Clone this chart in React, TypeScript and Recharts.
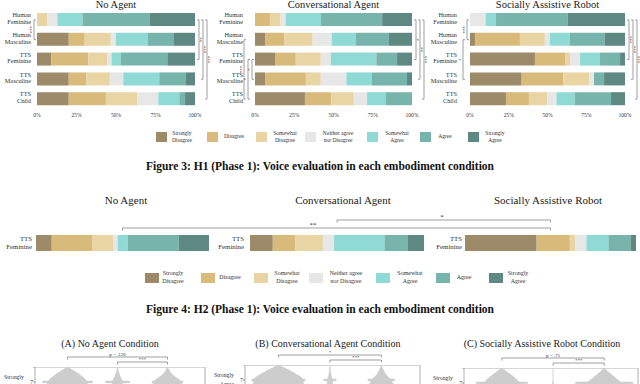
import React from 'react';
import { BarChart, Bar, XAxis, YAxis, AreaChart, Area, ReferenceArea } from 'recharts';

const FONT = "'Liberation Serif', 'DejaVu Serif', serif";

// ---------- data ----------
const LEVELS = ['Strongly Disagree', 'Disagree', 'Somewhat Disagree', 'Neither agree nor Disagree', 'Somewhat Agree', 'Agree', 'Strongly Agree'];
const LEVEL_LINES = [['Strongly', 'Disagree'], ['Disagree'], ['Somewhat', 'Disagree'], ['Neither agree', 'nor Disagree'], ['Somewhat', 'Agree'], ['Agree'], ['Strongly', 'Agree']];
const VOICES = ['Human Feminine', 'Human Masculine', 'TTS Feminine', 'TTS Masculine', 'TTS Child'];
const CONDITIONS = ['No Agent', 'Conversational Agent', 'Socially Assistive Robot'];
const PCT_TICKS = [0, 25, 50, 75, 100];

// percentages per voice (rows) and Likert level (columns)
const NO_AGENT = [
  [0, 0, 6.5, 6.4, 15.9, 42.7, 28.5],
  [20.1, 10.1, 16.5, 3.2, 20.1, 16.7, 13.3],
  [9.1, 23.3, 12.1, 2.7, 5.9, 29.4, 17.5],
  [20.1, 11.2, 14.8, 8.5, 22.8, 16.9, 5.7],
  [20.1, 23.5, 19.9, 13.3, 13.3, 3.6, 6.3],
];
const CONV_AGENT = [
  [0, 9.5, 6.8, 3.2, 22.5, 39, 19],
  [6.4, 12.1, 18.2, 12.1, 15.3, 21.2, 14.7],
  [13.1, 12.9, 15.9, 6.4, 29, 13.2, 9.5],
  [6.4, 26, 9.5, 16.3, 16.3, 22.3, 3.2],
  [31.8, 16.9, 14.2, 8.5, 11.7, 16.9, 0],
];
const SAR = [
  [0, 0, 0, 10.1, 6.7, 46.2, 37],
  [3.2, 29, 16.1, 3.2, 12.9, 22.6, 13],
  [41.9, 19.4, 3.2, 6.5, 12.9, 12.9, 3.2],
  [33.3, 26.9, 16.6, 3.2, 0, 6.5, 13.5],
  [23.2, 14.8, 11.8, 6, 11.8, 23.4, 9],
];
const CONDITION_DATA = [NO_AGENT, CONV_AGENT, SAR];

// significance annotations (voice index a vs b)
const NO_AGENT_SIG = [
  { a: 0, b: 1, label: '***', side: 'left' },
  { a: 0, b: 2, label: '**', side: 'right' },
  { a: 0, b: 3, label: '***', side: 'right' },
  { a: 0, b: 4, label: '***', side: 'right' },
];
const CONV_AGENT_SIG = [
  { a: 2, b: 3, label: '*', side: 'left' },
  { a: 2, b: 4, label: '*', side: 'left' },
  { a: 1, b: 4, label: '***', side: 'left' },
  { a: 0, b: 2, label: '*', side: 'right' },
  { a: 0, b: 3, label: '**', side: 'right' },
  { a: 0, b: 4, label: '***', side: 'right' },
];
const SAR_SIG = [
  { a: 0, b: 1, label: '***', side: 'left' },
  { a: 1, b: 3, label: '*', side: 'left' },
  { a: 0, b: 2, label: '***', side: 'right' },
  { a: 0, b: 3, label: '***', side: 'right' },
  { a: 0, b: 4, label: '***', side: 'right' },
];
const CONDITION_SIG = [NO_AGENT_SIG, CONV_AGENT_SIG, SAR_SIG];

// Figure 4: TTS Feminine across conditions
const FIG4_VOICE_INDEX = 2;
const FIG4_SIG = [
  { a: 0, b: 2, label: '**' },
  { a: 1, b: 2, label: '*' },
];

// Figure 5 (violins), rating levels and half-widths of each violin
const VIOLIN_TITLES = ['(A) No Agent Condition', '(B) Conversational Agent Condition', '(C) Socially Assistive Robot Condition'];
const VIOLIN_Y = [8, 7.8, 7.6, 7.4, 7.2, 7.07, 7.06, 6.95, 6.94, 6.6, 6.2, 6, 5, 4, 3, 2, 1];
const VIOLIN_HW = [
  [
    [0, 0.1, 0.2, 0.28, 0.35, 0.38, 0.5, 0.5, 0.4, 0.42, 0.44, 0.45, 0.3, 0.2, 0.1, 0.05, 0.02],
    [0, 0.01, 0.03, 0.05, 0.08, 0.1, 0.24, 0.24, 0.1, 0.12, 0.15, 0.2, 0.25, 0.2, 0.15, 0.1, 0.05],
    [0, 0.03, 0.07, 0.13, 0.22, 0.27, 0.31, 0.31, 0.28, 0.3, 0.3, 0.32, 0.2, 0.15, 0.1, 0.05, 0.02],
  ],
  [
    [0, 0.12, 0.24, 0.34, 0.44, 0.47, 0.52, 0.52, 0.48, 0.5, 0.5, 0.48, 0.3, 0.2, 0.1, 0.05, 0.02],
    [0, 0.005, 0.01, 0.02, 0.03, 0.05, 0.12, 0.12, 0.05, 0.06, 0.1, 0.15, 0.25, 0.25, 0.2, 0.15, 0.1],
    [0, 0.02, 0.05, 0.08, 0.13, 0.18, 0.26, 0.26, 0.2, 0.25, 0.3, 0.3, 0.2, 0.15, 0.1, 0.05, 0.02],
  ],
  [
    [0, 0.08, 0.16, 0.24, 0.3, 0.34, 0.5, 0.5, 0.35, 0.38, 0.4, 0.4, 0.3, 0.2, 0.1, 0.05, 0.02],
    [0, 0, 0, 0, 0, 0.005, 0.01, 0.01, 0.01, 0.02, 0.05, 0.1, 0.25, 0.3, 0.3, 0.25, 0.2],
    [0, 0.06, 0.13, 0.2, 0.27, 0.32, 0.56, 0.56, 0.36, 0.4, 0.42, 0.42, 0.3, 0.2, 0.1, 0.05, 0.02],
  ],
];
const VIOLIN_SIG = [
  [{ a: 0, b: 2, label: 'p = .126' }, { a: 1, b: 2, label: '***' }],
  [{ a: 0, b: 2, label: '*' }, { a: 1, b: 2, label: '***' }],
  [{ a: 0, b: 2, label: 'p = .75' }, { a: 1, b: 2, label: '***' }],
];

// ---------- styling / layout ----------
const COLORS = ['#9c8a69', '#d8ba7b', '#e9d4a4', '#e7e7e7', '#8fdad4', '#77b4ac', '#5e8983'];
const TEXT = '#333';

const F3_TOP = 0;
const F3_H = 122;
const F3_MT = 10;
const F3_XH = 13;
const F3_BAND = (F3_H - F3_MT - F3_XH) / VOICES.length;
const F3_PANELS = [
  { left: 0, width: 210, yw: 37, right: 15, gap: 6 },
  { left: 210, width: 215, yw: 45, right: 13, gap: 12 },
  { left: 425, width: 215, yw: 45, right: 15, gap: 13 },
];

const F4_TOP = 227;
const F4_H = 32;
const F4_PANELS = [
  { left: 0, width: 212, yw: 36, right: 3, gap: 4, title: 126 },
  { left: 212, width: 215, yw: 38, right: 3, gap: 6, title: 343 },
  { left: 427, width: 213, yw: 38, right: 4, gap: 3, title: 548 },
];
const F4_BRACKET_Y = [228, 220];
const F4_BRACKET_LABEL_X = [313, 442];

const V_UNIT = 15;
const V_PANELS = [
  { left: 35, width: 170, top: 367, domain: [0.35, 3.75], title: 110 },
  { left: 245, width: 175, top: 365, domain: [0.35, 3.75], title: 328 },
  { left: 464, width: 174, top: 368, domain: [0.26, 3.66], title: 542 },
];

const F3_LEGEND = { top: 132, sw: 11, sh: 10, fs: 5.6, sx: [156, 207, 256, 305, 367, 420, 468], lx: [182, 234, 285, 338, 397, 445, 495] };
const F4_LEGEND = { top: 273, sw: 13.5, sh: 10, fs: 6, sx: [145, 201, 254, 309, 376, 436, 489], lx: [173, 230, 287, 346, 410, 464, 518] };

function toRows(values: number[][], voices: string[]) {
  return voices.map((v, i) => {
    const r: any = { voice: v };
    LEVELS.forEach((_, j) => { r['k' + j] = values[i][j]; });
    return r;
  });
}

function voiceTick(gap: number, fs: number, d1: number, d2: number) {
  return (props: any) => {
    const { x, y, payload } = props;
    const words = String(payload.value).split(' ');
    const tx = x - gap;
    return (
      <text textAnchor="end" fontFamily={FONT} fontSize={fs} fill={TEXT}>
        <tspan x={tx} y={y + d1 + fs * 0.35}>{words[0]}</tspan>
        <tspan x={tx} y={y + d2 + fs * 0.35}>{words.slice(1).join(' ')}</tspan>
      </text>
    );
  };
}

function LikertPanel({ p, values }: any) {
  const data = toRows(values, VOICES);
  return (
    <div style={{ position: 'absolute', left: p.left, top: F3_TOP }}>
      <BarChart width={p.width} height={F3_H} data={data} layout="vertical" barSize={13}
        margin={{ top: F3_MT, right: p.right, bottom: 0, left: 0 }}>
        <XAxis type="number" domain={[0, 100]} ticks={PCT_TICKS} tickFormatter={(v: number) => v + '%'}
          axisLine={false} tickLine={false} tickSize={0} tickMargin={4} height={F3_XH}
          tick={{ fontSize: 5.5, fill: TEXT, fontFamily: FONT }} interval={0} />
        <YAxis type="category" dataKey="voice" width={p.yw} axisLine={false} tickLine={false}
          tickSize={0} tickMargin={0} interval={0} tick={voiceTick(p.gap, 6.3, -5, 1.6)} />
        {LEVELS.map((l, j) => (
          <Bar key={l} dataKey={'k' + j} stackId="s" fill={COLORS[j]} isAnimationActive={false} />
        ))}
      </BarChart>
    </div>
  );
}

function SingleBarPanel({ p, values }: any) {
  const data = toRows([values[FIG4_VOICE_INDEX]], [VOICES[FIG4_VOICE_INDEX]]);
  return (
    <div style={{ position: 'absolute', left: p.left, top: F4_TOP }}>
      <BarChart width={p.width} height={F4_H} data={data} layout="vertical" barSize={16}
        margin={{ top: 0, right: p.right, bottom: 0, left: 0 }}>
        <XAxis type="number" domain={[0, 100]} hide />
        <YAxis type="category" dataKey="voice" width={p.yw} axisLine={false} tickLine={false}
          tickSize={0} tickMargin={0} interval={0} tick={voiceTick(p.gap, 6.8, -4, 4)} />
        {LEVELS.map((l, j) => (
          <Bar key={l} dataKey={'k' + j} stackId="s" fill={COLORS[j]} isAnimationActive={false} />
        ))}
      </BarChart>
    </div>
  );
}

function violinTick(props: any) {
  const { x, y, payload } = props;
  if (payload.value !== 7) return <g />;
  return (
    <g>
      <text x={x} y={y + 1.5} textAnchor="end" fontFamily={FONT} fontSize={5.5} fill={TEXT}>7</text>
      <text textAnchor="end" fontFamily={FONT} fontSize={5.8} fill={TEXT}>
        <tspan x={x - 9} y={y - 3}>Strongly</tspan>
        <tspan x={x - 9} y={y + 6}>Agree</tspan>
      </text>
    </g>
  );
}

function ViolinPanel({ p, hw }: any) {
  const yw = 40;
  const rows = VIOLIN_Y.map((y, i) => {
    const r: any = { y };
    hw.forEach((h: number[], k: number) => { r['v' + k] = [k + 1 - h[i], k + 1 + h[i]]; });
    return r;
  });
  const h = V_UNIT * 7;
  return (
    <div style={{ position: 'absolute', left: p.left - yw, top: p.top }}>
      <AreaChart layout="vertical" width={yw + p.width + 2} height={h + 1} data={rows}
        margin={{ top: 0, right: 2, bottom: 1, left: 0 }}>
        <XAxis type="number" domain={p.domain} hide allowDataOverflow />
        <YAxis type="number" dataKey="y" domain={[1, 8]} ticks={[7, 8]} width={yw} axisLine={false} reversed
          tickSize={2} tickMargin={0} tickLine={{ stroke: '#666', strokeWidth: 0.6 }} tick={violinTick} interval={0} />
        <ReferenceArea x1={p.domain[0]} x2={p.domain[1]} y1={1} y2={8} fill="none" stroke="#8c8c8c"
          strokeWidth={0.7} ifOverflow="visible" />
        {hw.map((_: any, k: number) => (
          <Area key={k} dataKey={'v' + k} type="linear" fill="#cdcdcd" fillOpacity={1} stroke="#cdcdcd"
            strokeWidth={0.5} isAnimationActive={false} />
        ))}
      </AreaChart>
    </div>
  );
}

function Legend({ L }: any) {
  return (
    <>
      {LEVEL_LINES.map((lines, j) => {
        const cy = L.top + L.sh / 2;
        return (
          <React.Fragment key={j}>
            <div style={{ position: 'absolute', left: L.sx[j], top: L.top, width: L.sw, height: L.sh, background: COLORS[j] }} />
            <div style={{
              position: 'absolute', left: L.lx[j] - 40, width: 80, top: cy - (lines.length * L.fs * 1.3) / 2,
              textAlign: 'center', fontFamily: FONT, fontSize: L.fs, lineHeight: `${L.fs * 1.3}px`, color: TEXT,
            }}>
              {lines.map((t, i) => <div key={i}>{t}</div>)}
            </div>
          </React.Fragment>
        );
      })}
    </>
  );
}

function Bracket({ x1, x2, y, label, fs, lx }: any) {
  return (
    <g>
      <path d={`M${x1},${y + 2.5} L${x1},${y} L${x2},${y} L${x2},${y + 2.5}`} fill="none" stroke="#777" strokeWidth={0.7} />
      <text x={lx ?? (x1 + x2) / 2} y={y - 1.5} textAnchor="middle" fontFamily={FONT} fontSize={fs} fill={TEXT}>{label}</text>
    </g>
  );
}

function Overlay() {
  const items: any[] = [];
  // Figure 3 brackets
  F3_PANELS.forEach((p, pi) => {
    const PL = p.left + p.yw;
    const PR = p.left + p.width - p.right;
    const cy = (i: number) => F3_TOP + F3_MT + F3_BAND * (i + 0.5);
    let kl = 0, kr = 0;
    CONDITION_SIG[pi].forEach((s, si) => {
      const right = s.side === 'right';
      const x = right ? PR + 4 + 4 * kr++ : PL - 3 - 4 * kl++;
      const t = right ? -2 : 2;
      const y1 = cy(s.a), y2 = cy(s.b);
      const lx = right ? x + 2.5 : x - 2.5;
      const ly = (y1 + y2) / 2;
      items.push(
        <g key={`f3-${pi}-${si}`}>
          <path d={`M${x + t},${y1} L${x},${y1} L${x},${y2} L${x + t},${y2}`} fill="none" stroke="#777" strokeWidth={0.7} />
          <text x={lx} y={ly} transform={`rotate(-90 ${lx} ${ly})`} textAnchor="middle" dominantBaseline="central"
            fontFamily={FONT} fontSize={5} fill={TEXT}>{s.label}</text>
        </g>
      );
    });
  });
  // Figure 4 brackets
  const f4c = F4_PANELS.map((p) => p.left + p.yw + (p.width - p.yw - p.right) / 2);
  FIG4_SIG.forEach((s, si) => {
    items.push(<Bracket key={`f4-${si}`} x1={f4c[s.a]} x2={f4c[s.b]} y={F4_BRACKET_Y[si]} lx={F4_BRACKET_LABEL_X[si]} label={s.label} fs={7} />);
  });
  // Violin brackets
  V_PANELS.forEach((p, pi) => {
    const px = (c: number) => p.left + ((c - p.domain[0]) / (p.domain[1] - p.domain[0])) * p.width;
    VIOLIN_SIG[pi].forEach((s, si) => {
      items.push(<Bracket key={`v-${pi}-${si}`} x1={px(s.a + 1)} x2={px(s.b + 1)} y={p.top - 10 + 5 * si} label={s.label} fs={5} />);
    });
  });
  return (
    <svg width={640} height={384} style={{ position: 'absolute', left: 0, top: 0, pointerEvents: 'none' }}>
      {items}
    </svg>
  );
}

export default function App() {
  return (
    <div style={{ position: 'absolute', left: 0, top: 0, width: 640, height: 384, overflow: 'hidden', background: '#fff', fontFamily: FONT }}>
      {/* Figure 3 */}
      {F3_PANELS.map((p, i) => (
        <React.Fragment key={i}>
          <div style={{
            position: 'absolute', left: p.left + p.yw, width: p.width - p.yw - p.right, top: 0,
            textAlign: 'center', fontSize: 10.5, lineHeight: '10px', color: '#222', whiteSpace: 'nowrap',
          }}>{CONDITIONS[i]}</div>
          <LikertPanel p={p} values={CONDITION_DATA[i]} />
        </React.Fragment>
      ))}
      <Legend L={F3_LEGEND} />
      <div style={{ position: 'absolute', left: 0, width: 640, top: 160, textAlign: 'center', fontWeight: 'bold', fontSize: 11.5, color: '#111' }}>
        Figure 3: H1 (Phase 1): Voice evaluation in each embodiment condition
      </div>

      {/* Figure 4 */}
      {F4_PANELS.map((p, i) => (
        <React.Fragment key={i}>
          <div style={{ position: 'absolute', left: p.title - 80, width: 160, top: 194, textAlign: 'center', fontSize: 11, color: '#222' }}>
            {CONDITIONS[i]}
          </div>
          <SingleBarPanel p={p} values={CONDITION_DATA[i]} />
        </React.Fragment>
      ))}
      <Legend L={F4_LEGEND} />
      <div style={{ position: 'absolute', left: 0, width: 640, top: 303, textAlign: 'center', fontWeight: 'bold', fontSize: 11.5, color: '#111' }}>
        Figure 4: H2 (Phase 1): Voice evaluation in each embodiment condition
      </div>

      {/* Figure 5 (violins, cropped) */}
      {V_PANELS.map((p, i) => (
        <React.Fragment key={i}>
          <div style={{ position: 'absolute', left: p.title - 100, width: 200, top: 338, textAlign: 'center', fontSize: 10, color: '#222' }}>
            {VIOLIN_TITLES[i]}
          </div>
          <ViolinPanel p={p} hw={VIOLIN_HW[i]} />
        </React.Fragment>
      ))}
      <Overlay />
    </div>
  );
}
